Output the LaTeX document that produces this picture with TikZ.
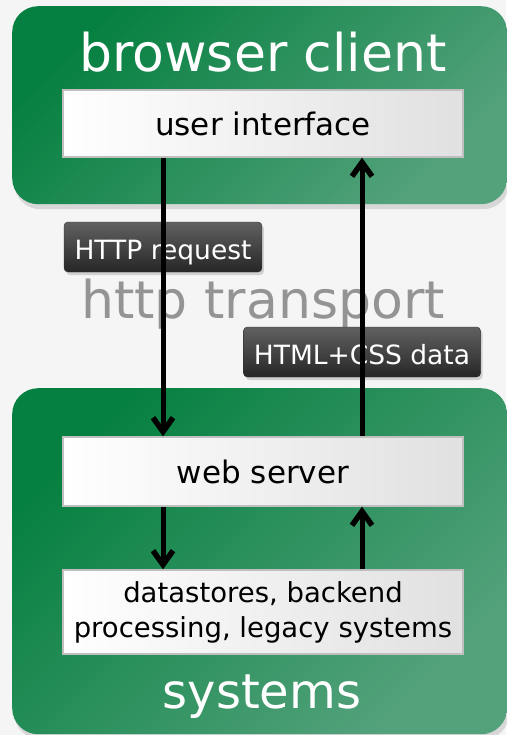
\documentclass[tikz,border=0pt]{standalone}
\usepackage{fontspec}
\setmainfont{DejaVu Sans}
\usepackage{xcolor}
\usetikzlibrary{arrows.meta, shadows}

\definecolor{tierdark}{RGB}{6,128,64}
\definecolor{tierlight}{RGB}{84,162,124}
\definecolor{paper}{RGB}{245,245,245}

\tikzset{
  tier/.style={rounded corners=26pt, top color=tierdark, bottom color=tierlight, shading angle=45,
    anchor=north west, minimum width=495pt,
    drop shadow={shadow xshift=2pt, shadow yshift=-5pt, opacity=0.25}},
  tiertitle/.style={anchor=base, text=white, font=\fontsize{52}{60}\selectfont},
  layer/.style={draw=black!25, line width=1.2pt, left color=white, right color=black!12,
    minimum width=400pt, align=center},
  tag/.style={draw=black!80, rounded corners=4pt, top color=black!62, bottom color=black!85,
    text=white, font=\fontsize{26.5}{30}\selectfont, minimum height=50pt, inner xsep=10.5pt,
    text height=24pt, text depth=0pt,
    drop shadow={shadow xshift=2pt, shadow yshift=-3pt, opacity=0.3}},
  flow/.style={line width=5pt, -{Straight Barb[length=14pt, width=20pt, line width=5.5pt]}}
}

\begin{document}
\begin{tikzpicture}[x=1pt, y=-1pt]
\fill[paper] (0,0) rectangle (506,735);
\useasboundingbox (0,0) rectangle (506,735);
%% tiers
\node[tier, minimum height=198pt] (client) at (12,6) {};
\node[tier, minimum height=346pt] (systems) at (12,388) {};
\node[tiertitle] (clienttitle) at (263,72) {browser client};
\node[tiertitle, font=\fontsize{48}{56}\selectfont] (systemstitle) at (262,708) {systems};
%% layers
\node[layer, minimum height=67pt, font=\fontsize{31}{36}\selectfont] (ui) at (263,123.5) {user interface};
\node[layer, minimum height=69pt, font=\fontsize{31}{36}\selectfont] (web) at (263,471.5) {web server};
\node[layer, minimum height=84pt, font=\fontsize{27.5}{35}\selectfont] (store) at (263,612)
  {datastores, backend\\processing, legacy systems};
%% transport
\node[anchor=base, text=black!42, font=\fontsize{52}{60}\selectfont] (transport) at (263,318) {http transport};
\node[tag] (request) at (163,247) {HTTP request};
\node[tag] (response) at (362,352) {HTML+CSS data};
%% flows
\draw[flow] ([xshift=-100pt]ui.south) -- ([xshift=-100pt]web.north);
\draw[flow] ([xshift=-100pt]web.south) -- ([xshift=-100pt]store.north);
\draw[flow] ([xshift=99pt]store.north) -- ([xshift=99pt]web.south);
\draw[flow] ([xshift=99pt]web.north) -- ([xshift=99pt]ui.south);
\end{tikzpicture}
\end{document}
